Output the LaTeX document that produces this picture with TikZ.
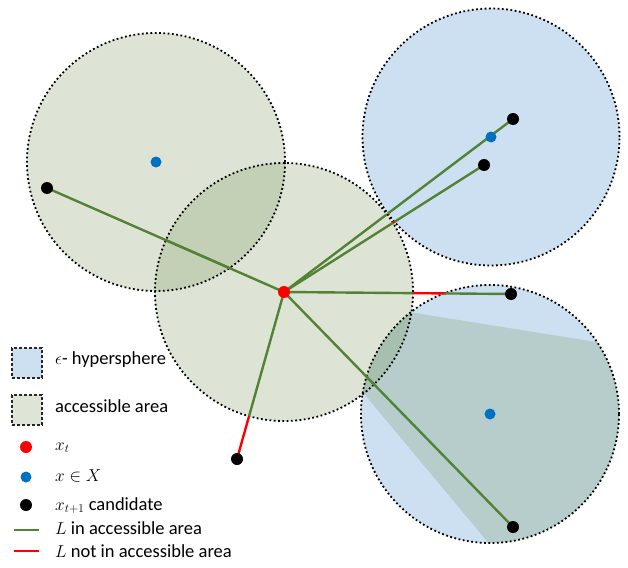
\documentclass[tikz,border=0pt]{standalone}
\usepackage{fontspec}
\setmainfont{Carlito}
\usetikzlibrary{calc}
\definecolor{hyperblue}{RGB}{204,224,242}
\definecolor{accgreen}{RGB}{123,151,91}
\definecolor{lgreen}{RGB}{84,130,53}
\definecolor{xblue}{RGB}{0,112,192}
\begin{document}
\begin{tikzpicture}[x=1pt,y=-1pt,
  bluefill/.style={fill=hyperblue},
  accfill/.style={fill=accgreen, fill opacity=0.25},
  dotborder/.style={draw=black, line width=1.8pt, dash pattern=on 1.8pt off 2.5pt},
  pathL/.style={draw=lgreen, line width=2.4pt},
  pathR/.style={draw=red, line width=2.4pt},
  pt/.style={circle, inner sep=0pt, minimum size=12pt},
  lbl/.style={anchor=base west, inner sep=0pt, font=\fontsize{18.5}{22}\selectfont},
  legbox/.style={draw=black!85, dash pattern=on 3pt off 2pt, line width=1.2pt, minimum size=30pt, inner sep=0pt}
]
\fill[white] (0,0) rectangle (628,567);
\useasboundingbox (0,0) rectangle (628,567);
% centres
\coordinate (A) at (156,162);
\coordinate (xt) at (284,292);
\coordinate (C) at (491,137);
\coordinate (D) at (490,414);
% candidates
\coordinate (c1) at (47,188);
\coordinate (c2) at (513,119);
\coordinate (c3) at (484,165);
\coordinate (c4) at (511,294);
\coordinate (c5) at (513,527);
\coordinate (c6) at (237,459);
% hyperspheres
\fill[bluefill] (C) circle[radius=128.5pt];
\fill[bluefill] (D) circle[radius=129pt];
% accessible areas
\fill[accfill] (A) circle[radius=129pt];
\fill[accfill] (xt) circle[radius=129pt];
\begin{scope}
  \clip (D) circle[radius=129pt];
  \fill[accfill] (340,301) -- (640,349) -- (640,570) -- (511,570) -- (340,365) -- cycle;
\end{scope}
% borders
\draw[dotborder] (A) circle[radius=129pt];
\draw[dotborder] (xt) circle[radius=129pt];
\draw[dotborder] (C) circle[radius=128.5pt];
\draw[dotborder] (D) circle[radius=129pt];
% red parts (outside every circle)
\coordinate (r3a) at ($(xt)!128.5pt!(c3)$);
\coordinate (r3b) at ($(xt)!132.5pt!(c3)$);
\coordinate (r4a) at ($(xt)!129pt!(c4)$);
\coordinate (r4b) at ($(xt)!162pt!(c4)$);
\coordinate (r6a) at ($(xt)!129pt!(c6)$);
\draw[pathR] (r3a) -- (r3b);
\draw[pathR] (r4a) -- (r4b);
\draw[pathR] (r6a) -- (c6);
% green parts
\begin{scope}
  \clip (A) circle[radius=129pt];
  \draw[pathL] (xt) -- (c1);
\end{scope}
\begin{scope}
  \clip (xt) circle[radius=129pt];
  \foreach \p in {c1,c2,c3,c4,c5,c6} \draw[pathL] (xt) -- (\p);
\end{scope}
\begin{scope}
  \clip (C) circle[radius=128.5pt];
  \foreach \p in {c2,c3} \draw[pathL] (xt) -- (\p);
\end{scope}
\begin{scope}
  \clip (D) circle[radius=129pt];
  \foreach \p in {c4,c5} \draw[pathL] (xt) -- (\p);
\end{scope}
% points
\node[pt, fill=xblue, minimum size=11pt] (pA) at (A) {};
\node[pt, fill=xblue, minimum size=11pt] (pC) at (C) {};
\node[pt, fill=xblue, minimum size=11pt] (pD) at (D) {};
\foreach \p in {c1,c2,c3,c4,c5,c6} \node[pt, fill=black] (n\p) at (\p) {};
\node[pt, fill=red] (pxt) at (xt) {};
% legend
\node[legbox, fill=hyperblue] (lb1) at (27,363) {};
\node[legbox, fill=accgreen!25] (lb2) at (27,410) {};
\node[lbl] (lt1) at (55,364) {$\epsilon$- hypersphere};
\node[lbl] (lt2) at (55,412) {accessible area};
\node[pt, fill=red] (ld1) at (26,447) {};
\node[pt, fill=xblue, minimum size=11pt] (ld2) at (26,477) {};
\node[pt, fill=black] (ld3) at (26,505) {};
\node[lbl] (lt3) at (55,450) {$x_t$};
\node[lbl] (lt4) at (55,481) {$x\in X$};
\node[lbl] (lt5) at (55,510) {$x_{t+1}$ candidate};
\coordinate (lg1a) at (14,530);
\coordinate (lg1b) at (39,530);
\coordinate (lg2a) at (14,551);
\coordinate (lg2b) at (39,551);
\draw[pathL] (lg1a) -- (lg1b);
\draw[pathR] (lg2a) -- (lg2b);
\node[lbl] (lt6) at (55,534) {$L$ in accessible area};
\node[lbl] (lt7) at (55,557) {$L$ not in accessible area};
\end{tikzpicture}
\end{document}
